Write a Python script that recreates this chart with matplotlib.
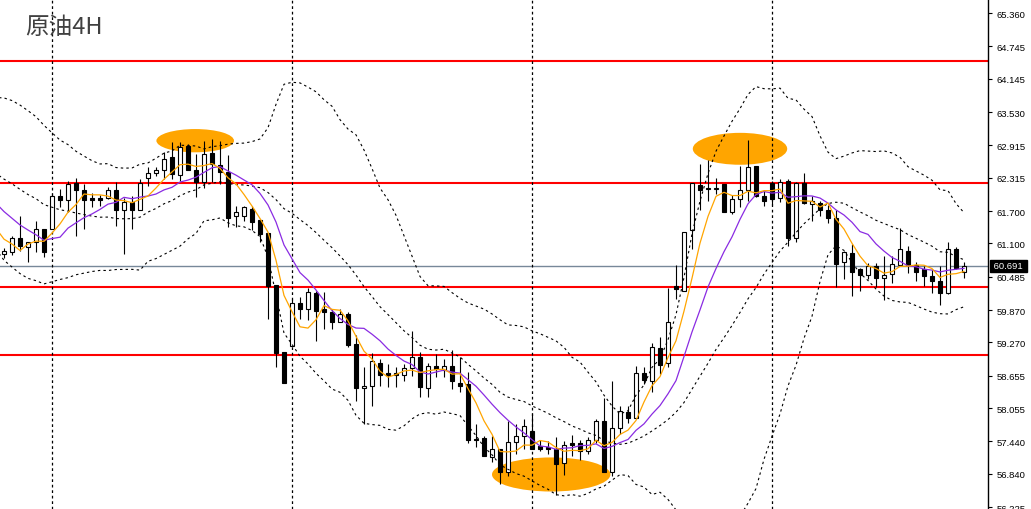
import numpy as np
import pandas as pd
import matplotlib
matplotlib.use("Agg")
import matplotlib.pyplot as plt
from matplotlib.patches import Ellipse
import matplotlib.transforms as mtransforms

# ---------------- data (4H crude oil candles) ----------------
opens = [60.90, 60.94, 61.21, 61.04, 61.12, 61.37, 61.36, 61.97, 61.91, 62.22,
         62.09, 61.94, 61.94, 61.94, 62.09, 61.71, 61.87, 61.71, 62.31, 62.40,
         62.45, 62.69, 62.37, 62.91, 62.46, 62.24, 62.77, 62.55, 62.43, 61.61,
         61.61, 61.74, 61.54, 61.29, 60.33, 59.10, 59.21, 60.00, 59.88, 60.18,
         59.88, 59.83, 59.65, 59.80, 59.24, 58.42, 58.46, 58.89, 58.70, 58.70,
         58.67, 58.79, 59.00, 58.42, 58.83, 58.77, 58.83, 58.53, 58.50, 57.49,
         57.50, 57.15, 57.30, 56.88, 57.43, 57.54, 57.64, 57.36, 57.33, 57.31,
         57.04, 57.41, 57.41, 57.27, 57.47, 57.82, 56.87, 57.68, 57.98, 57.87,
         58.71, 58.56, 59.16, 58.89, 60.32, 60.23, 61.34, 62.18, 62.12, 62.11,
         62.20, 61.69, 61.92, 62.09, 62.53, 61.97, 62.22, 61.94, 62.26, 61.20,
         62.22, 61.83, 61.85, 61.71, 61.58, 60.75, 60.92, 60.62, 60.52, 60.68,
         60.46, 60.54, 60.70, 60.97, 60.70, 60.62, 60.50, 60.41, 60.18, 61.00,
         60.58]
highs = [61.02, 61.23, 61.60, 61.13, 61.52, 61.37, 62.03, 62.11, 62.25, 62.31,
         62.20, 62.03, 62.00, 62.14, 62.23, 61.94, 61.98, 62.29, 62.51, 62.51,
         62.80, 62.97, 62.97, 62.94, 62.75, 63.00, 63.03, 63.00, 62.74, 61.80,
         61.80, 61.79, 61.55, 61.29, 60.33, 59.10, 60.07, 60.11, 60.27, 60.23,
         60.20, 59.89, 59.89, 59.83, 59.40, 58.81, 59.08, 58.97, 58.87, 58.81,
         58.87, 59.49, 59.09, 58.89, 59.06, 58.97, 59.14, 59.00, 58.72, 57.76,
         57.54, 57.54, 57.30, 57.81, 57.76, 57.86, 57.97, 57.46, 57.44, 57.52,
         57.44, 57.56, 57.46, 57.52, 57.86, 58.24, 58.55, 58.09, 58.09, 58.84,
         58.81, 59.26, 59.37, 60.27, 60.70, 61.32, 62.22, 62.57, 62.65, 62.31,
         62.20, 62.00, 62.54, 63.02, 62.53, 62.08, 62.26, 62.29, 62.29, 62.24,
         62.40, 61.98, 61.89, 61.81, 61.71, 60.97, 61.09, 60.64, 60.74, 60.74,
         60.86, 60.86, 61.38, 61.05, 60.75, 60.68, 60.62, 60.68, 61.13, 61.03,
         60.75]
lows = [60.83, 60.89, 60.97, 60.76, 60.94, 60.85, 61.36, 61.77, 61.68, 61.23,
        61.37, 61.77, 61.80, 61.92, 61.43, 60.91, 61.37, 61.71, 62.17, 62.34,
        62.29, 62.29, 62.26, 62.45, 61.95, 62.12, 62.23, 62.20, 61.40, 61.40,
        61.52, 61.34, 61.12, 59.70, 58.81, 58.52, 59.21, 59.70, 59.69, 59.30,
        59.51, 59.51, 59.64, 59.18, 58.19, 57.76, 58.10, 58.46, 58.44, 58.44,
        58.56, 58.65, 58.26, 58.27, 58.63, 58.63, 58.41, 58.35, 57.41, 57.33,
        57.17, 57.06, 56.65, 56.81, 57.21, 57.30, 57.30, 57.27, 57.21, 56.45,
        56.82, 57.18, 57.09, 57.21, 57.41, 56.87, 56.81, 57.58, 57.78, 57.87,
        58.50, 58.36, 58.69, 58.81, 60.07, 60.23, 61.00, 61.71, 61.89, 62.02,
        61.69, 61.65, 61.77, 61.89, 61.95, 61.79, 61.81, 61.86, 61.05, 61.12,
        61.83, 61.52, 61.61, 61.48, 60.29, 60.44, 60.12, 60.23, 60.44, 60.29,
        60.06, 60.37, 60.68, 60.55, 60.41, 60.31, 60.18, 59.96, 60.17, 60.63,
        60.47]
closes = [60.96, 61.21, 61.06, 61.12, 61.37, 60.94, 61.97, 61.91, 62.20, 62.08,
          61.91, 61.90, 61.90, 62.09, 61.71, 61.86, 61.71, 62.21, 62.40, 62.45,
          62.67, 62.38, 62.88, 62.45, 62.24, 62.75, 62.57, 62.43, 61.58, 61.68,
          61.77, 61.50, 61.28, 60.32, 59.08, 58.52, 60.00, 59.88, 60.20, 59.85,
          59.83, 59.65, 59.80, 59.22, 58.42, 58.46, 58.92, 58.67, 58.67, 58.67,
          58.79, 59.00, 58.44, 58.83, 58.78, 58.83, 58.55, 58.47, 57.46, 57.46,
          57.17, 57.31, 56.87, 57.43, 57.54, 57.72, 57.30, 57.30, 57.30, 57.02,
          57.38, 57.38, 57.27, 57.47, 57.82, 56.87, 57.68, 58.01, 57.87, 58.71,
          58.58, 59.18, 58.85, 59.64, 60.26, 61.32, 62.22, 62.09, 62.11, 62.12,
          61.69, 61.92, 62.09, 62.51, 61.97, 61.89, 61.92, 62.24, 61.20, 62.22,
          61.85, 61.89, 61.71, 61.57, 60.72, 60.94, 60.58, 60.52, 60.68, 60.46,
          60.52, 60.72, 61.00, 60.70, 60.58, 60.49, 60.41, 60.18, 60.99, 60.64,
          60.69]
# closes of the bars before the visible window (feed the moving averages)
prior_closes = [63.05, 62.95, 63.10, 63.05, 62.90, 63.15, 62.92, 62.85, 62.70, 62.78,
                62.50, 62.45, 62.30, 62.05, 62.25, 61.95, 61.66, 61.66, 60.52, 61.10]

separator_bars = [6, 36, 66, 96]
levels = [64.47, 62.22, 60.29, 59.04]
current_price = 60.691
tick_values = [65.360, 64.745, 64.145, 63.530, 62.915, 62.315, 61.700, 61.100,
               60.485, 59.870, 59.270, 58.655, 58.055, 57.440, 56.840, 56.225]
tick_labels = ["65.360", "64.745", "64.145", "63.530", "62.915", "62.315", "61.700",
               "61.100", "60.485", "59.870", "59.270", "58.655", "58.055", "57.440",
               "56.840", "56.225"]
title = "原油4H"

# highlighted zones: (bar center, price center, width in bars, height in price)
zones = [(23.9, 63.00, 9.7, 0.43),
         (92.0, 62.85, 11.8, 0.59),
         (68.4, 56.83, 14.8, 0.63)]

# ---------------- indicators ----------------
all_closes = pd.Series(prior_closes + closes, dtype=float)
all_x = np.arange(len(all_closes)) - len(prior_closes)
sma5 = all_closes.rolling(5).mean()
sma10 = all_closes.rolling(10).mean()
mid = all_closes.rolling(20).mean()
sd = all_closes.rolling(20).std(ddof=0)
upper = mid + 2 * sd
lower = mid - 2 * sd

# ---------------- figure ----------------
W, H = 1031, 510
fig = plt.figure(figsize=(W / 100, H / 100), dpi=100)
fig.patch.set_facecolor("white")
ax = fig.add_axes([0, 0, 988 / W, 1])
ax.set_facecolor("white")
ax.set_xlim(-0.5, 123.0)
ax.set_ylim(56.192, 65.619)

for s in ["top", "left", "bottom"]:
    ax.spines[s].set_visible(False)
ax.spines["right"].set_color("black")
ax.spines["right"].set_linewidth(1.0)
ax.set_xticks([])
ax.yaxis.tick_right()
ax.set_yticks(tick_values)
ax.set_yticklabels(tick_labels)
ax.tick_params(axis="y", direction="out", length=3, width=0.8, pad=3,
               labelsize=6.8, colors="black")
for lab in ax.get_yticklabels():
    lab.set_fontfamily("Liberation Sans")

# zones (behind candles)
for (cx, cy, w, h) in zones:
    ax.add_patch(Ellipse((cx, cy), w, h, facecolor="#FFA500", edgecolor="none", zorder=1))

# horizontal levels
for lv in levels:
    ax.axhline(lv, color="#FF0000", lw=1.5, zorder=1.5)
ax.axhline(current_price, color="#778899", lw=1.0, zorder=1.4)

# period separators
for b in separator_bars:
    ax.axvline(b, color="black", lw=0.9, dashes=(2.2, 2.2), zorder=1.6)

# candles
x = np.arange(len(closes))
o = np.array(opens); c = np.array(closes); hi = np.array(highs); lo = np.array(lows)
ax.vlines(x, lo, hi, color="black", lw=0.8, zorder=3)
bull = c >= o
body_bottom = np.minimum(o, c)
body_h = np.maximum(np.abs(c - o), 0.004)
ax.bar(x[bull], body_h[bull], bottom=body_bottom[bull], width=0.58,
       facecolor="white", edgecolor="black", linewidth=0.8, zorder=3.2)
ax.bar(x[~bull], body_h[~bull], bottom=body_bottom[~bull], width=0.58,
       facecolor="black", edgecolor="black", linewidth=0.8, zorder=3.2)

# Bollinger bands and moving averages
for ser in (upper, mid, lower):
    ax.plot(all_x, ser, color="black", lw=0.8, dashes=(2.2, 2.8), zorder=4)
ax.plot(all_x, sma10, color="#8A2BE2", lw=0.9, zorder=4.2)
ax.plot(all_x, sma5, color="#FFA500", lw=0.9, zorder=4.3)

# current price label on the axis
trans = mtransforms.blended_transform_factory(ax.transAxes, ax.transData)
ax.text(1.0, current_price, " 60.691 ", transform=trans + mtransforms.ScaledTranslation(3 / 100, 0, fig.dpi_scale_trans),
        ha="left", va="center", fontsize=6.8, family="Liberation Sans", color="white",
        bbox=dict(boxstyle="square,pad=0.15", facecolor="black", edgecolor="black"),
        zorder=10, clip_on=False)

# title
fig.text(25 / W, 1 - 27.5 / H, title, ha="left", va="center", fontsize=17,
         color="#404040", family=["Noto Sans CJK SC", "DejaVu Sans"])

fig.savefig("out.png", dpi=100, facecolor="white")
